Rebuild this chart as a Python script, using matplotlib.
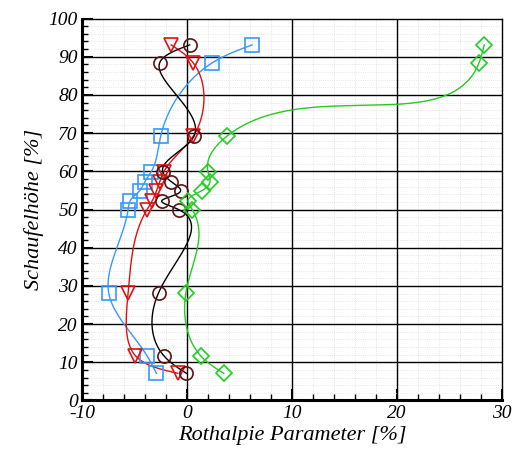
import numpy as np
import matplotlib
matplotlib.use("Agg")
import matplotlib.pyplot as plt
from matplotlib.ticker import MultipleLocator, FixedLocator

# blade height [%] (shared by all four series)
height = [7.1, 11.7, 28.2, 50.0, 52.3, 54.9, 57.3, 59.9, 69.2, 88.4, 93.1]
# rothalpy parameter [%]
x_blue = [-2.9, -3.8, -7.45, -5.6, -5.4, -4.5, -4.0, -3.4, -2.5, 2.4, 6.2]
x_black = [-0.05, -2.2, -2.7, -0.8, -2.4, -0.6, -1.5, -2.3, 0.67, -2.6, 0.26]
x_red = [-0.86, -4.9, -5.6, -3.8, -3.3, -2.9, -2.6, -2.2, 0.6, 0.6, -1.5]
x_green = [3.5, 1.3, -0.1, 0.5, 0.1, 1.4, 2.2, 2.0, 3.8, 27.8, 28.3]

BLUE, RED, GREEN, BROWN = '#3399ff', '#dd1111', '#22cc22', '#5a1414'


def nat_spline(t, y, tt):
    n = len(t)
    h = np.diff(t)
    A = np.zeros((n, n)); b = np.zeros(n)
    A[0, 0] = A[-1, -1] = 1
    for i in range(1, n - 1):
        A[i, i-1] = h[i-1]; A[i, i] = 2 * (h[i-1] + h[i]); A[i, i+1] = h[i]
        b[i] = 6 * ((y[i+1] - y[i]) / h[i] - (y[i] - y[i-1]) / h[i-1])
    M = np.linalg.solve(A, b)
    out = np.empty_like(tt)
    for k, s in enumerate(tt):
        i = min(max(np.searchsorted(t, s) - 1, 0), n - 2)
        a = (t[i+1] - s) / h[i]; c = (s - t[i]) / h[i]
        out[k] = (a * y[i] + c * y[i+1]
                  + ((a**3 - a) * M[i] + (c**3 - c) * M[i+1]) * h[i]**2 / 6)
    return out


def curve(x, y):
    x = np.asarray(x, float); y = np.asarray(y, float)
    # chord length measured in screen-like units
    d = np.hypot(np.diff(x) * 10.47, np.diff(y) * 3.82)
    t = np.concatenate([[0], np.cumsum(d)])
    tt = np.linspace(0, t[-1], 800)
    return nat_spline(t, x, tt), nat_spline(t, y, tt)


plt.rcParams['font.family'] = 'Liberation Serif'
plt.rcParams['font.style'] = 'italic'
plt.rcParams['axes.unicode_minus'] = False

fig = plt.figure(figsize=(5.15, 4.53), dpi=100)
ax = fig.add_axes([0.159, 0.116, 0.816, 0.843])

series = [(x_blue, BLUE, BLUE, 's', 10),
          (x_red, RED, RED, 'v', 10),
          (x_black, 'black', BROWN, 'o', 9.5),
          (x_green, GREEN, GREEN, 'D', 8.5)]
for xs, lc, mc, mk, ms in series:
    cx, cy = curve(xs, height)
    ax.plot(cx, cy, color=lc, lw=1.0, zorder=3)
    ax.plot(xs, height, ls='none', marker=mk, ms=ms, mfc='none',
            mec=mc, mew=1.2, zorder=4)

ax.set_xlim(-10, 30)
ax.set_ylim(0, 100)
ax.xaxis.set_major_locator(MultipleLocator(10))
ax.xaxis.set_minor_locator(FixedLocator([v for v in range(-10, 31, 2) if v % 10]))
ax.yaxis.set_major_locator(MultipleLocator(10))
ax.yaxis.set_minor_locator(FixedLocator([v for v in range(0, 101, 2) if v % 10]))
# faint dotted minor grid underneath, solid black major grid above it
ax.grid(which='minor', color='#dddddd', lw=0.6, ls=':')
ax.set_axisbelow(True)
for v in range(0, 30, 10):
    ax.axvline(v, color='black', lw=1.0, zorder=1)
for v in range(10, 100, 10):
    ax.axhline(v, color='black', lw=1.0, zorder=1)
ax.tick_params(which='major', direction='in', length=8, width=1.5, labelsize=14, pad=3)
ax.tick_params(which='minor', direction='in', length=4, width=1.0)
ax.tick_params(top=False, right=False)
for s in ['left', 'bottom']:
    ax.spines[s].set_linewidth(2.2)
for s in ['top', 'right']:
    ax.spines[s].set_linewidth(1.0)

ax.set_xlabel('Rothalpie Parameter [%]', fontsize=16, labelpad=3)
ax.set_ylabel('Schaufelhöhe [%]', fontsize=16, labelpad=3)

fig.savefig('out.png', dpi=100)
